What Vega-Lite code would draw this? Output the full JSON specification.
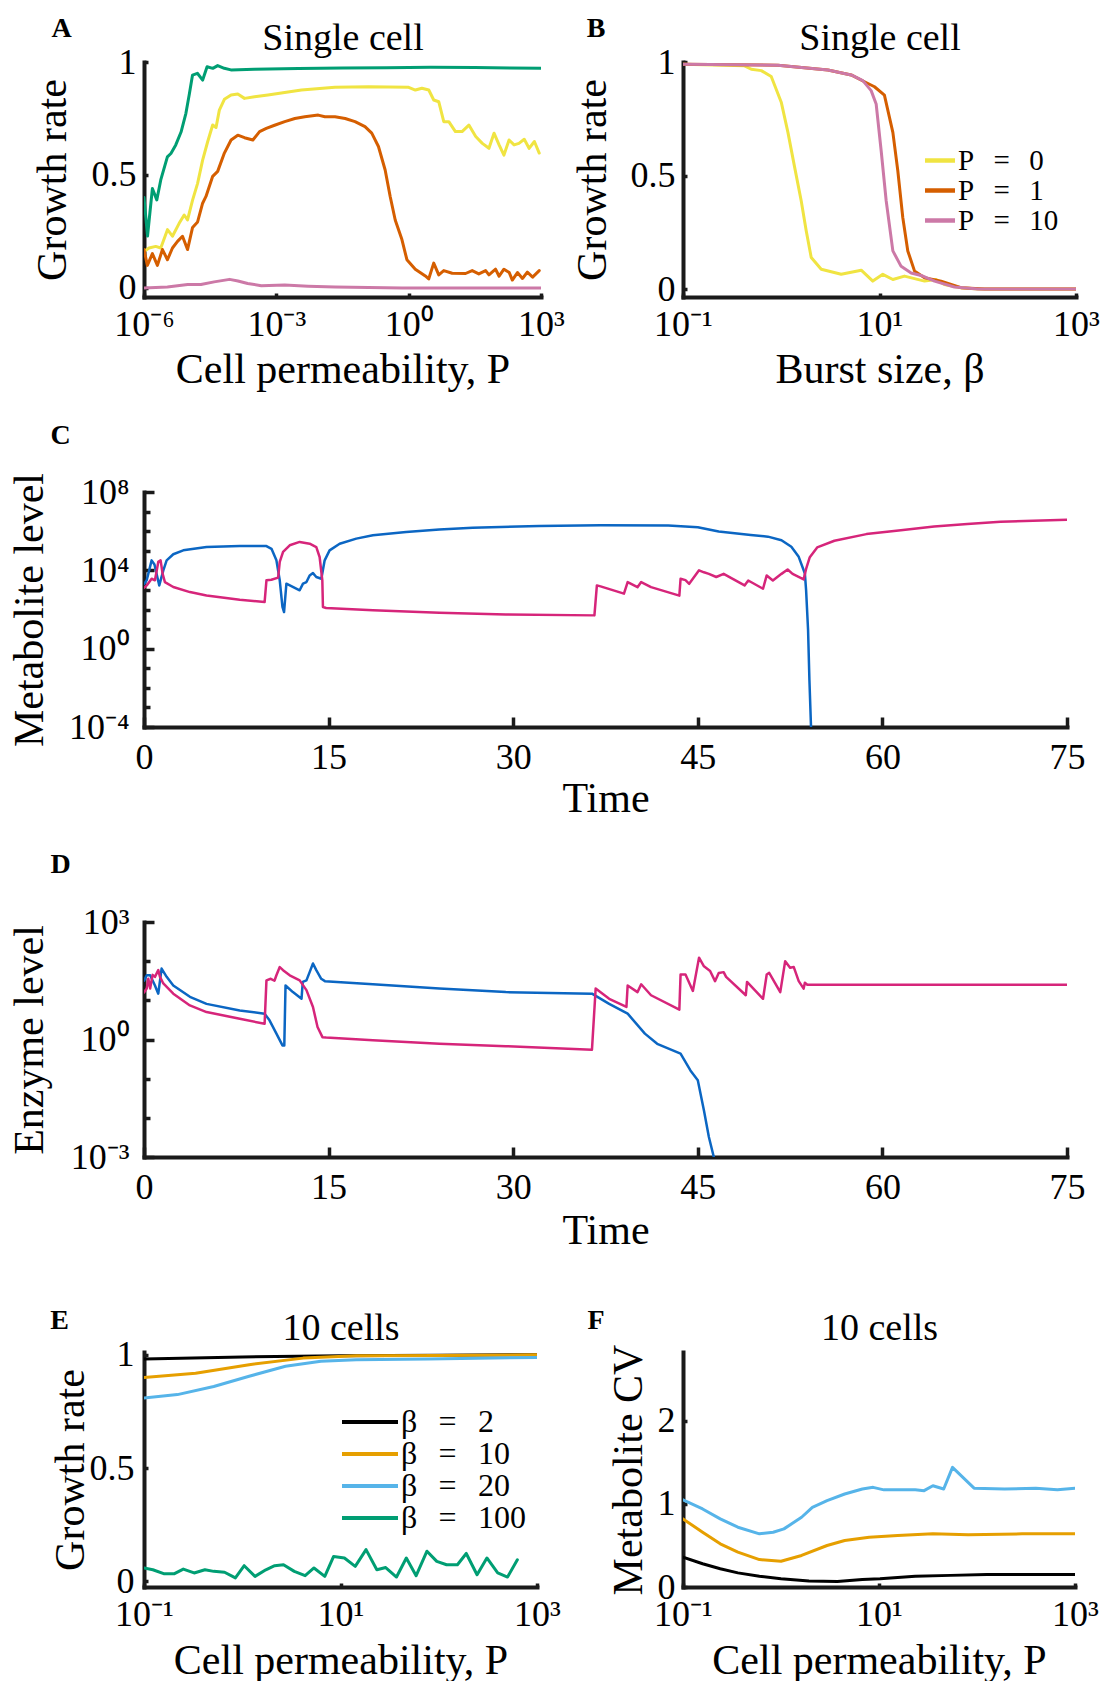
{
  "$schema": "https://vega.github.io/schema/vega-lite/v6.json",
  "background": "white",
  "padding": {"left": 8, "top": 14, "right": 5, "bottom": 0},
  "config": {
    "font": "Liberation Serif",
    "view": {"stroke": null},
    "axis": {"grid": false, "domainColor": "#1a1a1a", "domainWidth": 4, "domainCap": "square", "tickColor": "#1a1a1a", "tickWidth": 3.5, "labelFont": "Liberation Serif", "labelFontSize": 36, "labelColor": "black", "labelFlush": false, "labelOverlap": false, "labelBound": false, "titleFont": "Liberation Serif", "titleFontSize": 42, "titleFontWeight": "normal", "titleColor": "black"},
    "legend": {"labelFont": "Liberation Serif", "labelColor": "black"},
    "line": {"strokeJoin": "round", "strokeCap": "round"}
  },
  "datasets": {
    "A": [
      {"log10_P":-6.0,"growth_rate":0.40,"curve":"Series 1"},{"log10_P":-5.92,"growth_rate":0.23,"curve":"Series 1"},{"log10_P":-5.81,"growth_rate":0.44,"curve":"Series 1"},{"log10_P":-5.71,"growth_rate":0.39,"curve":"Series 1"},{"log10_P":-5.62,"growth_rate":0.478,"curve":"Series 1"},{"log10_P":-5.47,"growth_rate":0.58,"curve":"Series 1"},{"log10_P":-5.39,"growth_rate":0.595,"curve":"Series 1"},{"log10_P":-5.28,"growth_rate":0.633,"curve":"Series 1"},{"log10_P":-5.16,"growth_rate":0.69,"curve":"Series 1"},{"log10_P":-5.05,"growth_rate":0.773,"curve":"Series 1"},{"log10_P":-4.97,"growth_rate":0.861,"curve":"Series 1"},{"log10_P":-4.9,"growth_rate":0.942,"curve":"Series 1"},{"log10_P":-4.79,"growth_rate":0.95,"curve":"Series 1"},{"log10_P":-4.67,"growth_rate":0.92,"curve":"Series 1"},{"log10_P":-4.57,"growth_rate":0.979,"curve":"Series 1"},{"log10_P":-4.44,"growth_rate":0.972,"curve":"Series 1"},{"log10_P":-4.33,"growth_rate":0.984,"curve":"Series 1"},{"log10_P":-4.18,"growth_rate":0.972,"curve":"Series 1"},{"log10_P":-4.03,"growth_rate":0.965,"curve":"Series 1"},{"log10_P":-3.5,"growth_rate":0.968,"curve":"Series 1"},{"log10_P":-2.5,"growth_rate":0.971,"curve":"Series 1"},{"log10_P":-1.5,"growth_rate":0.973,"curve":"Series 1"},{"log10_P":-0.5,"growth_rate":0.975,"curve":"Series 1"},{"log10_P":0.5,"growth_rate":0.977,"curve":"Series 1"},{"log10_P":1.5,"growth_rate":0.976,"curve":"Series 1"},{"log10_P":2.3,"growth_rate":0.973,"curve":"Series 1"},{"log10_P":3.0,"growth_rate":0.972,"curve":"Series 1"},
      {"log10_P":-6.0,"growth_rate":0.161,"curve":"Series 2"},{"log10_P":-5.886,"growth_rate":0.177,"curve":"Series 2"},{"log10_P":-5.734,"growth_rate":0.184,"curve":"Series 2"},{"log10_P":-5.62,"growth_rate":0.177,"curve":"Series 2"},{"log10_P":-5.468,"growth_rate":0.258,"curve":"Series 2"},{"log10_P":-5.355,"growth_rate":0.229,"curve":"Series 2"},{"log10_P":-5.203,"growth_rate":0.286,"curve":"Series 2"},{"log10_P":-5.089,"growth_rate":0.323,"curve":"Series 2"},{"log10_P":-5.013,"growth_rate":0.301,"curve":"Series 2"},{"log10_P":-4.899,"growth_rate":0.389,"curve":"Series 2"},{"log10_P":-4.785,"growth_rate":0.463,"curve":"Series 2"},{"log10_P":-4.671,"growth_rate":0.566,"curve":"Series 2"},{"log10_P":-4.557,"growth_rate":0.647,"curve":"Series 2"},{"log10_P":-4.443,"growth_rate":0.721,"curve":"Series 2"},{"log10_P":-4.367,"growth_rate":0.71,"curve":"Series 2"},{"log10_P":-4.292,"growth_rate":0.787,"curve":"Series 2"},{"log10_P":-4.178,"growth_rate":0.835,"curve":"Series 2"},{"log10_P":-4.026,"growth_rate":0.854,"curve":"Series 2"},{"log10_P":-3.874,"growth_rate":0.858,"curve":"Series 2"},{"log10_P":-3.722,"growth_rate":0.839,"curve":"Series 2"},{"log10_P":-3.494,"growth_rate":0.846,"curve":"Series 2"},{"log10_P":-3.19,"growth_rate":0.854,"curve":"Series 2"},{"log10_P":-2.431,"growth_rate":0.876,"curve":"Series 2"},{"log10_P":-1.672,"growth_rate":0.888,"curve":"Series 2"},{"log10_P":-0.912,"growth_rate":0.891,"curve":"Series 2"},{"log10_P":0.0,"growth_rate":0.888,"curve":"Series 2"},{"log10_P":0.152,"growth_rate":0.876,"curve":"Series 2"},{"log10_P":0.3,"growth_rate":0.884,"curve":"Series 2"},{"log10_P":0.456,"growth_rate":0.876,"curve":"Series 2"},{"log10_P":0.568,"growth_rate":0.832,"curve":"Series 2"},{"log10_P":0.683,"growth_rate":0.824,"curve":"Series 2"},{"log10_P":0.796,"growth_rate":0.736,"curve":"Series 2"},{"log10_P":0.91,"growth_rate":0.736,"curve":"Series 2"},{"log10_P":1.06,"growth_rate":0.692,"curve":"Series 2"},{"log10_P":1.21,"growth_rate":0.692,"curve":"Series 2"},{"log10_P":1.365,"growth_rate":0.721,"curve":"Series 2"},{"log10_P":1.52,"growth_rate":0.67,"curve":"Series 2"},{"log10_P":1.67,"growth_rate":0.64,"curve":"Series 2"},{"log10_P":1.82,"growth_rate":0.618,"curve":"Series 2"},{"log10_P":1.935,"growth_rate":0.685,"curve":"Series 2"},{"log10_P":2.05,"growth_rate":0.633,"curve":"Series 2"},{"log10_P":2.16,"growth_rate":0.588,"curve":"Series 2"},{"log10_P":2.276,"growth_rate":0.655,"curve":"Series 2"},{"log10_P":2.39,"growth_rate":0.633,"curve":"Series 2"},{"log10_P":2.5,"growth_rate":0.64,"curve":"Series 2"},{"log10_P":2.62,"growth_rate":0.658,"curve":"Series 2"},{"log10_P":2.73,"growth_rate":0.618,"curve":"Series 2"},{"log10_P":2.85,"growth_rate":0.648,"curve":"Series 2"},{"log10_P":2.96,"growth_rate":0.597,"curve":"Series 2"},
      {"log10_P":-6.0,"growth_rate":0.17,"curve":"Series 3"},{"log10_P":-5.924,"growth_rate":0.1,"curve":"Series 3"},{"log10_P":-5.81,"growth_rate":0.152,"curve":"Series 3"},{"log10_P":-5.696,"growth_rate":0.1,"curve":"Series 3"},{"log10_P":-5.582,"growth_rate":0.17,"curve":"Series 3"},{"log10_P":-5.468,"growth_rate":0.125,"curve":"Series 3"},{"log10_P":-5.355,"growth_rate":0.177,"curve":"Series 3"},{"log10_P":-5.24,"growth_rate":0.206,"curve":"Series 3"},{"log10_P":-5.127,"growth_rate":0.229,"curve":"Series 3"},{"log10_P":-5.013,"growth_rate":0.17,"curve":"Series 3"},{"log10_P":-4.899,"growth_rate":0.268,"curve":"Series 3"},{"log10_P":-4.785,"growth_rate":0.292,"curve":"Series 3"},{"log10_P":-4.671,"growth_rate":0.375,"curve":"Series 3"},{"log10_P":-4.595,"growth_rate":0.405,"curve":"Series 3"},{"log10_P":-4.443,"growth_rate":0.494,"curve":"Series 3"},{"log10_P":-4.33,"growth_rate":0.516,"curve":"Series 3"},{"log10_P":-4.178,"growth_rate":0.597,"curve":"Series 3"},{"log10_P":-4.026,"growth_rate":0.655,"curve":"Series 3"},{"log10_P":-3.874,"growth_rate":0.676,"curve":"Series 3"},{"log10_P":-3.722,"growth_rate":0.665,"curve":"Series 3"},{"log10_P":-3.532,"growth_rate":0.655,"curve":"Series 3"},{"log10_P":-3.38,"growth_rate":0.692,"curve":"Series 3"},{"log10_P":-3.228,"growth_rate":0.706,"curve":"Series 3"},{"log10_P":-3.04,"growth_rate":0.72,"curve":"Series 3"},{"log10_P":-2.81,"growth_rate":0.736,"curve":"Series 3"},{"log10_P":-2.58,"growth_rate":0.75,"curve":"Series 3"},{"log10_P":-2.355,"growth_rate":0.758,"curve":"Series 3"},{"log10_P":-2.05,"growth_rate":0.765,"curve":"Series 3"},{"log10_P":-1.9,"growth_rate":0.758,"curve":"Series 3"},{"log10_P":-1.67,"growth_rate":0.758,"curve":"Series 3"},{"log10_P":-1.44,"growth_rate":0.75,"curve":"Series 3"},{"log10_P":-1.216,"growth_rate":0.736,"curve":"Series 3"},{"log10_P":-0.99,"growth_rate":0.714,"curve":"Series 3"},{"log10_P":-0.837,"growth_rate":0.685,"curve":"Series 3"},{"log10_P":-0.685,"growth_rate":0.626,"curve":"Series 3"},{"log10_P":-0.533,"growth_rate":0.522,"curve":"Series 3"},{"log10_P":-0.419,"growth_rate":0.405,"curve":"Series 3"},{"log10_P":-0.305,"growth_rate":0.301,"curve":"Series 3"},{"log10_P":-0.153,"growth_rate":0.214,"curve":"Series 3"},{"log10_P":-0.04,"growth_rate":0.125,"curve":"Series 3"},{"log10_P":0.15,"growth_rate":0.083,"curve":"Series 3"},{"log10_P":0.378,"growth_rate":0.053,"curve":"Series 3"},{"log10_P":0.454,"growth_rate":0.04,"curve":"Series 3"},{"log10_P":0.568,"growth_rate":0.11,"curve":"Series 3"},{"log10_P":0.682,"growth_rate":0.058,"curve":"Series 3"},{"log10_P":0.796,"growth_rate":0.077,"curve":"Series 3"},{"log10_P":0.986,"growth_rate":0.065,"curve":"Series 3"},{"log10_P":1.29,"growth_rate":0.064,"curve":"Series 3"},{"log10_P":1.44,"growth_rate":0.077,"curve":"Series 3"},{"log10_P":1.59,"growth_rate":0.062,"curve":"Series 3"},{"log10_P":1.745,"growth_rate":0.077,"curve":"Series 3"},{"log10_P":1.82,"growth_rate":0.058,"curve":"Series 3"},{"log10_P":1.97,"growth_rate":0.083,"curve":"Series 3"},{"log10_P":2.05,"growth_rate":0.052,"curve":"Series 3"},{"log10_P":2.16,"growth_rate":0.083,"curve":"Series 3"},{"log10_P":2.28,"growth_rate":0.068,"curve":"Series 3"},{"log10_P":2.35,"growth_rate":0.035,"curve":"Series 3"},{"log10_P":2.466,"growth_rate":0.068,"curve":"Series 3"},{"log10_P":2.58,"growth_rate":0.042,"curve":"Series 3"},{"log10_P":2.69,"growth_rate":0.07,"curve":"Series 3"},{"log10_P":2.81,"growth_rate":0.048,"curve":"Series 3"},{"log10_P":2.96,"growth_rate":0.077,"curve":"Series 3"},
      {"log10_P":-6.0,"growth_rate":0.0,"curve":"Series 4"},{"log10_P":-5.47,"growth_rate":0.004,"curve":"Series 4"},{"log10_P":-5.01,"growth_rate":0.015,"curve":"Series 4"},{"log10_P":-4.71,"growth_rate":0.015,"curve":"Series 4"},{"log10_P":-4.41,"growth_rate":0.027,"curve":"Series 4"},{"log10_P":-4.06,"growth_rate":0.038,"curve":"Series 4"},{"log10_P":-3.87,"growth_rate":0.031,"curve":"Series 4"},{"log10_P":-3.65,"growth_rate":0.02,"curve":"Series 4"},{"log10_P":-3.34,"growth_rate":0.01,"curve":"Series 4"},{"log10_P":-2.81,"growth_rate":0.013,"curve":"Series 4"},{"log10_P":-2.28,"growth_rate":0.008,"curve":"Series 4"},{"log10_P":-1.67,"growth_rate":0.004,"curve":"Series 4"},{"log10_P":-0.91,"growth_rate":0.002,"curve":"Series 4"},{"log10_P":-0.15,"growth_rate":0.0,"curve":"Series 4"},{"log10_P":1.37,"growth_rate":0.0,"curve":"Series 4"},{"log10_P":3.0,"growth_rate":0.0,"curve":"Series 4"}
    ],
    "B": [
      {"log10_beta":-1,"growth_rate":0.99,"permeability":"P = 0"},{"log10_beta":-0.373,"growth_rate":0.983,"permeability":"P = 0"},{"log10_beta":-0.305,"growth_rate":0.968,"permeability":"P = 0"},{"log10_beta":-0.203,"growth_rate":0.962,"permeability":"P = 0"},{"log10_beta":-0.102,"growth_rate":0.936,"permeability":"P = 0"},{"log10_beta":0.0,"growth_rate":0.823,"permeability":"P = 0"},{"log10_beta":0.068,"growth_rate":0.69,"permeability":"P = 0"},{"log10_beta":0.136,"growth_rate":0.537,"permeability":"P = 0"},{"log10_beta":0.203,"growth_rate":0.389,"permeability":"P = 0"},{"log10_beta":0.254,"growth_rate":0.257,"permeability":"P = 0"},{"log10_beta":0.305,"growth_rate":0.139,"permeability":"P = 0"},{"log10_beta":0.407,"growth_rate":0.087,"permeability":"P = 0"},{"log10_beta":0.61,"growth_rate":0.065,"permeability":"P = 0"},{"log10_beta":0.814,"growth_rate":0.083,"permeability":"P = 0"},{"log10_beta":0.932,"growth_rate":0.035,"permeability":"P = 0"},{"log10_beta":1.034,"growth_rate":0.065,"permeability":"P = 0"},{"log10_beta":1.136,"growth_rate":0.042,"permeability":"P = 0"},{"log10_beta":1.254,"growth_rate":0.057,"permeability":"P = 0"},{"log10_beta":1.458,"growth_rate":0.035,"permeability":"P = 0"},{"log10_beta":1.576,"growth_rate":0.042,"permeability":"P = 0"},{"log10_beta":1.66,"growth_rate":0.02,"permeability":"P = 0"},{"log10_beta":1.83,"growth_rate":0.006,"permeability":"P = 0"},{"log10_beta":2.0,"growth_rate":0.0,"permeability":"P = 0"},{"log10_beta":3.0,"growth_rate":0.0,"permeability":"P = 0"},
      {"log10_beta":-1,"growth_rate":0.99,"permeability":"P = 1"},{"log10_beta":-0.034,"growth_rate":0.986,"permeability":"P = 1"},{"log10_beta":0.475,"growth_rate":0.965,"permeability":"P = 1"},{"log10_beta":0.712,"growth_rate":0.943,"permeability":"P = 1"},{"log10_beta":0.847,"growth_rate":0.913,"permeability":"P = 1"},{"log10_beta":0.949,"growth_rate":0.891,"permeability":"P = 1"},{"log10_beta":1.05,"growth_rate":0.854,"permeability":"P = 1"},{"log10_beta":1.136,"growth_rate":0.69,"permeability":"P = 1"},{"log10_beta":1.186,"growth_rate":0.522,"permeability":"P = 1"},{"log10_beta":1.237,"growth_rate":0.315,"permeability":"P = 1"},{"log10_beta":1.288,"growth_rate":0.168,"permeability":"P = 1"},{"log10_beta":1.356,"growth_rate":0.08,"permeability":"P = 1"},{"log10_beta":1.458,"growth_rate":0.05,"permeability":"P = 1"},{"log10_beta":1.627,"growth_rate":0.035,"permeability":"P = 1"},{"log10_beta":1.83,"growth_rate":0.006,"permeability":"P = 1"},{"log10_beta":2.07,"growth_rate":0.0,"permeability":"P = 1"},{"log10_beta":3.0,"growth_rate":0.0,"permeability":"P = 1"},
      {"log10_beta":-1,"growth_rate":0.99,"permeability":"P = 10"},{"log10_beta":-0.034,"growth_rate":0.986,"permeability":"P = 10"},{"log10_beta":0.475,"growth_rate":0.965,"permeability":"P = 10"},{"log10_beta":0.712,"growth_rate":0.943,"permeability":"P = 10"},{"log10_beta":0.83,"growth_rate":0.918,"permeability":"P = 10"},{"log10_beta":0.915,"growth_rate":0.874,"permeability":"P = 10"},{"log10_beta":0.966,"growth_rate":0.815,"permeability":"P = 10"},{"log10_beta":1.017,"growth_rate":0.609,"permeability":"P = 10"},{"log10_beta":1.068,"growth_rate":0.389,"permeability":"P = 10"},{"log10_beta":1.136,"growth_rate":0.168,"permeability":"P = 10"},{"log10_beta":1.22,"growth_rate":0.1,"permeability":"P = 10"},{"log10_beta":1.322,"growth_rate":0.071,"permeability":"P = 10"},{"log10_beta":1.424,"growth_rate":0.06,"permeability":"P = 10"},{"log10_beta":1.56,"growth_rate":0.035,"permeability":"P = 10"},{"log10_beta":1.763,"growth_rate":0.009,"permeability":"P = 10"},{"log10_beta":2.0,"growth_rate":0.0,"permeability":"P = 10"},{"log10_beta":3.0,"growth_rate":0.0,"permeability":"P = 10"}
    ],
    "C": [
      {"time":0.0,"log10_metabolite":3.3,"cell":"Cell 1"},{"time":0.22,"log10_metabolite":3.49,"cell":"Cell 1"},{"time":0.62,"log10_metabolite":4.51,"cell":"Cell 1"},{"time":0.85,"log10_metabolite":4.3,"cell":"Cell 1"},{"time":1.24,"log10_metabolite":3.23,"cell":"Cell 1"},{"time":1.57,"log10_metabolite":4.0,"cell":"Cell 1"},{"time":1.84,"log10_metabolite":4.51,"cell":"Cell 1"},{"time":2.38,"log10_metabolite":4.82,"cell":"Cell 1"},{"time":3.19,"log10_metabolite":5.02,"cell":"Cell 1"},{"time":5.08,"log10_metabolite":5.19,"cell":"Cell 1"},{"time":7.78,"log10_metabolite":5.24,"cell":"Cell 1"},{"time":9.95,"log10_metabolite":5.24,"cell":"Cell 1"},{"time":10.36,"log10_metabolite":5.1,"cell":"Cell 1"},{"time":10.76,"log10_metabolite":4.51,"cell":"Cell 1"},{"time":11.03,"log10_metabolite":3.49,"cell":"Cell 1"},{"time":11.25,"log10_metabolite":2.13,"cell":"Cell 1"},{"time":11.38,"log10_metabolite":1.87,"cell":"Cell 1"},{"time":11.57,"log10_metabolite":3.32,"cell":"Cell 1"},{"time":12.65,"log10_metabolite":2.98,"cell":"Cell 1"},{"time":12.92,"log10_metabolite":3.32,"cell":"Cell 1"},{"time":13.2,"log10_metabolite":3.4,"cell":"Cell 1"},{"time":13.46,"log10_metabolite":3.74,"cell":"Cell 1"},{"time":13.73,"log10_metabolite":3.86,"cell":"Cell 1"},{"time":14.0,"log10_metabolite":3.66,"cell":"Cell 1"},{"time":14.41,"log10_metabolite":3.57,"cell":"Cell 1"},{"time":14.68,"log10_metabolite":4.51,"cell":"Cell 1"},{"time":15.08,"log10_metabolite":5.02,"cell":"Cell 1"},{"time":15.9,"log10_metabolite":5.36,"cell":"Cell 1"},{"time":17.25,"log10_metabolite":5.62,"cell":"Cell 1"},{"time":18.6,"log10_metabolite":5.79,"cell":"Cell 1"},{"time":21.3,"log10_metabolite":5.96,"cell":"Cell 1"},{"time":24.0,"log10_metabolite":6.09,"cell":"Cell 1"},{"time":26.7,"log10_metabolite":6.18,"cell":"Cell 1"},{"time":32.1,"log10_metabolite":6.26,"cell":"Cell 1"},{"time":37.1,"log10_metabolite":6.3,"cell":"Cell 1"},{"time":42.6,"log10_metabolite":6.29,"cell":"Cell 1"},{"time":45.0,"log10_metabolite":6.2,"cell":"Cell 1"},{"time":46.7,"log10_metabolite":5.98,"cell":"Cell 1"},{"time":49.3,"log10_metabolite":5.81,"cell":"Cell 1"},{"time":50.7,"log10_metabolite":5.72,"cell":"Cell 1"},{"time":51.8,"log10_metabolite":5.54,"cell":"Cell 1"},{"time":52.6,"log10_metabolite":5.2,"cell":"Cell 1"},{"time":53.2,"log10_metabolite":4.69,"cell":"Cell 1"},{"time":53.7,"log10_metabolite":3.84,"cell":"Cell 1"},{"time":53.8,"log10_metabolite":2.99,"cell":"Cell 1"},{"time":53.96,"log10_metabolite":0.95,"cell":"Cell 1"},{"time":54.07,"log10_metabolite":-1.6,"cell":"Cell 1"},{"time":54.2,"log10_metabolite":-4.0,"cell":"Cell 1"},
      {"time":0.0,"log10_metabolite":3.1,"cell":"Cell 2"},{"time":0.22,"log10_metabolite":3.23,"cell":"Cell 2"},{"time":0.62,"log10_metabolite":3.57,"cell":"Cell 2"},{"time":0.89,"log10_metabolite":3.49,"cell":"Cell 2"},{"time":1.16,"log10_metabolite":4.43,"cell":"Cell 2"},{"time":1.35,"log10_metabolite":4.51,"cell":"Cell 2"},{"time":1.51,"log10_metabolite":3.83,"cell":"Cell 2"},{"time":1.7,"log10_metabolite":3.4,"cell":"Cell 2"},{"time":2.38,"log10_metabolite":3.15,"cell":"Cell 2"},{"time":3.73,"log10_metabolite":2.89,"cell":"Cell 2"},{"time":5.08,"log10_metabolite":2.72,"cell":"Cell 2"},{"time":7.78,"log10_metabolite":2.5,"cell":"Cell 2"},{"time":9.8,"log10_metabolite":2.38,"cell":"Cell 2"},{"time":9.95,"log10_metabolite":3.49,"cell":"Cell 2"},{"time":10.35,"log10_metabolite":3.52,"cell":"Cell 2"},{"time":10.9,"log10_metabolite":3.63,"cell":"Cell 2"},{"time":11.03,"log10_metabolite":4.43,"cell":"Cell 2"},{"time":11.3,"log10_metabolite":4.94,"cell":"Cell 2"},{"time":11.84,"log10_metabolite":5.28,"cell":"Cell 2"},{"time":12.65,"log10_metabolite":5.45,"cell":"Cell 2"},{"time":13.46,"log10_metabolite":5.36,"cell":"Cell 2"},{"time":14.0,"log10_metabolite":5.19,"cell":"Cell 2"},{"time":14.27,"log10_metabolite":4.68,"cell":"Cell 2"},{"time":14.49,"log10_metabolite":3.49,"cell":"Cell 2"},{"time":14.54,"log10_metabolite":2.13,"cell":"Cell 2"},{"time":14.8,"log10_metabolite":2.08,"cell":"Cell 2"},{"time":18.6,"log10_metabolite":1.96,"cell":"Cell 2"},{"time":24.0,"log10_metabolite":1.84,"cell":"Cell 2"},{"time":29.4,"log10_metabolite":1.75,"cell":"Cell 2"},{"time":36.6,"log10_metabolite":1.7,"cell":"Cell 2"},{"time":36.8,"log10_metabolite":3.23,"cell":"Cell 2"},{"time":37.1,"log10_metabolite":3.18,"cell":"Cell 2"},{"time":39.0,"log10_metabolite":2.81,"cell":"Cell 2"},{"time":39.3,"log10_metabolite":3.4,"cell":"Cell 2"},{"time":40.1,"log10_metabolite":3.14,"cell":"Cell 2"},{"time":40.4,"log10_metabolite":3.4,"cell":"Cell 2"},{"time":41.2,"log10_metabolite":3.14,"cell":"Cell 2"},{"time":43.5,"log10_metabolite":2.71,"cell":"Cell 2"},{"time":43.6,"log10_metabolite":3.57,"cell":"Cell 2"},{"time":44.0,"log10_metabolite":3.5,"cell":"Cell 2"},{"time":44.3,"log10_metabolite":3.31,"cell":"Cell 2"},{"time":45.1,"log10_metabolite":4.0,"cell":"Cell 2"},{"time":45.5,"log10_metabolite":3.9,"cell":"Cell 2"},{"time":45.9,"log10_metabolite":3.82,"cell":"Cell 2"},{"time":46.5,"log10_metabolite":3.66,"cell":"Cell 2"},{"time":47.1,"log10_metabolite":3.82,"cell":"Cell 2"},{"time":48.8,"log10_metabolite":3.23,"cell":"Cell 2"},{"time":49.1,"log10_metabolite":3.48,"cell":"Cell 2"},{"time":50.3,"log10_metabolite":3.06,"cell":"Cell 2"},{"time":50.6,"log10_metabolite":3.74,"cell":"Cell 2"},{"time":51.1,"log10_metabolite":3.48,"cell":"Cell 2"},{"time":51.8,"log10_metabolite":3.82,"cell":"Cell 2"},{"time":52.3,"log10_metabolite":4.04,"cell":"Cell 2"},{"time":52.7,"log10_metabolite":3.82,"cell":"Cell 2"},{"time":53.6,"log10_metabolite":3.54,"cell":"Cell 2"},{"time":53.8,"log10_metabolite":4.07,"cell":"Cell 2"},{"time":54.1,"log10_metabolite":4.67,"cell":"Cell 2"},{"time":54.7,"log10_metabolite":5.17,"cell":"Cell 2"},{"time":56.1,"log10_metabolite":5.51,"cell":"Cell 2"},{"time":58.7,"log10_metabolite":5.85,"cell":"Cell 2"},{"time":61.5,"log10_metabolite":6.05,"cell":"Cell 2"},{"time":64.2,"log10_metabolite":6.24,"cell":"Cell 2"},{"time":66.9,"log10_metabolite":6.36,"cell":"Cell 2"},{"time":69.6,"log10_metabolite":6.48,"cell":"Cell 2"},{"time":75.0,"log10_metabolite":6.58,"cell":"Cell 2"}
    ],
    "D": [
      {"time":0.0,"log10_enzyme":1.5,"cell":"Cell 1"},{"time":0.22,"log10_enzyme":1.64,"cell":"Cell 1"},{"time":0.5,"log10_enzyme":1.64,"cell":"Cell 1"},{"time":0.89,"log10_enzyme":1.38,"cell":"Cell 1"},{"time":1.16,"log10_enzyme":1.17,"cell":"Cell 1"},{"time":1.43,"log10_enzyme":1.81,"cell":"Cell 1"},{"time":1.84,"log10_enzyme":1.6,"cell":"Cell 1"},{"time":2.38,"log10_enzyme":1.38,"cell":"Cell 1"},{"time":3.73,"log10_enzyme":1.09,"cell":"Cell 1"},{"time":5.08,"log10_enzyme":0.91,"cell":"Cell 1"},{"time":7.78,"log10_enzyme":0.74,"cell":"Cell 1"},{"time":9.8,"log10_enzyme":0.66,"cell":"Cell 1"},{"time":10.2,"log10_enzyme":0.49,"cell":"Cell 1"},{"time":10.76,"log10_enzyme":0.15,"cell":"Cell 1"},{"time":11.25,"log10_enzyme":-0.15,"cell":"Cell 1"},{"time":11.4,"log10_enzyme":-0.15,"cell":"Cell 1"},{"time":11.5,"log10_enzyme":1.38,"cell":"Cell 1"},{"time":12.1,"log10_enzyme":1.21,"cell":"Cell 1"},{"time":12.8,"log10_enzyme":1.04,"cell":"Cell 1"},{"time":12.9,"log10_enzyme":1.47,"cell":"Cell 1"},{"time":13.2,"log10_enzyme":1.51,"cell":"Cell 1"},{"time":13.46,"log10_enzyme":1.72,"cell":"Cell 1"},{"time":13.73,"log10_enzyme":1.94,"cell":"Cell 1"},{"time":14.0,"log10_enzyme":1.77,"cell":"Cell 1"},{"time":14.4,"log10_enzyme":1.55,"cell":"Cell 1"},{"time":14.7,"log10_enzyme":1.49,"cell":"Cell 1"},{"time":18.6,"log10_enzyme":1.41,"cell":"Cell 1"},{"time":24.0,"log10_enzyme":1.3,"cell":"Cell 1"},{"time":29.4,"log10_enzyme":1.21,"cell":"Cell 1"},{"time":36.4,"log10_enzyme":1.17,"cell":"Cell 1"},{"time":37.8,"log10_enzyme":0.91,"cell":"Cell 1"},{"time":39.3,"log10_enzyme":0.66,"cell":"Cell 1"},{"time":40.7,"log10_enzyme":0.15,"cell":"Cell 1"},{"time":41.7,"log10_enzyme":-0.11,"cell":"Cell 1"},{"time":43.6,"log10_enzyme":-0.36,"cell":"Cell 1"},{"time":44.4,"log10_enzyme":-0.79,"cell":"Cell 1"},{"time":45.0,"log10_enzyme":-1.04,"cell":"Cell 1"},{"time":45.5,"log10_enzyme":-1.81,"cell":"Cell 1"},{"time":45.9,"log10_enzyme":-2.49,"cell":"Cell 1"},{"time":46.3,"log10_enzyme":-3.0,"cell":"Cell 1"},
      {"time":0.0,"log10_enzyme":1.2,"cell":"Cell 2"},{"time":0.22,"log10_enzyme":1.3,"cell":"Cell 2"},{"time":0.35,"log10_enzyme":1.55,"cell":"Cell 2"},{"time":0.5,"log10_enzyme":1.3,"cell":"Cell 2"},{"time":0.7,"log10_enzyme":1.65,"cell":"Cell 2"},{"time":0.89,"log10_enzyme":1.6,"cell":"Cell 2"},{"time":1.16,"log10_enzyme":1.77,"cell":"Cell 2"},{"time":1.3,"log10_enzyme":1.6,"cell":"Cell 2"},{"time":1.57,"log10_enzyme":1.43,"cell":"Cell 2"},{"time":2.38,"log10_enzyme":1.17,"cell":"Cell 2"},{"time":3.73,"log10_enzyme":0.87,"cell":"Cell 2"},{"time":5.08,"log10_enzyme":0.7,"cell":"Cell 2"},{"time":7.78,"log10_enzyme":0.53,"cell":"Cell 2"},{"time":9.8,"log10_enzyme":0.4,"cell":"Cell 2"},{"time":9.95,"log10_enzyme":1.51,"cell":"Cell 2"},{"time":10.3,"log10_enzyme":1.55,"cell":"Cell 2"},{"time":10.6,"log10_enzyme":1.5,"cell":"Cell 2"},{"time":10.76,"log10_enzyme":1.64,"cell":"Cell 2"},{"time":11.03,"log10_enzyme":1.85,"cell":"Cell 2"},{"time":11.3,"log10_enzyme":1.77,"cell":"Cell 2"},{"time":11.84,"log10_enzyme":1.64,"cell":"Cell 2"},{"time":12.65,"log10_enzyme":1.51,"cell":"Cell 2"},{"time":13.2,"log10_enzyme":1.26,"cell":"Cell 2"},{"time":13.73,"log10_enzyme":0.83,"cell":"Cell 2"},{"time":14.1,"log10_enzyme":0.32,"cell":"Cell 2"},{"time":14.5,"log10_enzyme":0.06,"cell":"Cell 2"},{"time":14.8,"log10_enzyme":0.05,"cell":"Cell 2"},{"time":18.6,"log10_enzyme":-0.02,"cell":"Cell 2"},{"time":24.0,"log10_enzyme":-0.11,"cell":"Cell 2"},{"time":29.4,"log10_enzyme":-0.17,"cell":"Cell 2"},{"time":36.4,"log10_enzyme":-0.26,"cell":"Cell 2"},{"time":36.7,"log10_enzyme":1.3,"cell":"Cell 2"},{"time":37.8,"log10_enzyme":1.04,"cell":"Cell 2"},{"time":39.2,"log10_enzyme":0.83,"cell":"Cell 2"},{"time":39.3,"log10_enzyme":1.38,"cell":"Cell 2"},{"time":40.1,"log10_enzyme":1.21,"cell":"Cell 2"},{"time":40.4,"log10_enzyme":1.41,"cell":"Cell 2"},{"time":41.2,"log10_enzyme":1.13,"cell":"Cell 2"},{"time":43.5,"log10_enzyme":0.76,"cell":"Cell 2"},{"time":43.6,"log10_enzyme":1.66,"cell":"Cell 2"},{"time":44.0,"log10_enzyme":1.66,"cell":"Cell 2"},{"time":44.6,"log10_enzyme":1.24,"cell":"Cell 2"},{"time":45.1,"log10_enzyme":2.09,"cell":"Cell 2"},{"time":45.5,"log10_enzyme":1.87,"cell":"Cell 2"},{"time":46.0,"log10_enzyme":1.75,"cell":"Cell 2"},{"time":46.4,"log10_enzyme":1.49,"cell":"Cell 2"},{"time":46.7,"log10_enzyme":1.7,"cell":"Cell 2"},{"time":47.1,"log10_enzyme":1.72,"cell":"Cell 2"},{"time":47.3,"log10_enzyme":1.6,"cell":"Cell 2"},{"time":48.9,"log10_enzyme":1.13,"cell":"Cell 2"},{"time":49.0,"log10_enzyme":1.47,"cell":"Cell 2"},{"time":50.3,"log10_enzyme":1.04,"cell":"Cell 2"},{"time":50.6,"log10_enzyme":1.66,"cell":"Cell 2"},{"time":50.8,"log10_enzyme":1.7,"cell":"Cell 2"},{"time":51.7,"log10_enzyme":1.21,"cell":"Cell 2"},{"time":52.1,"log10_enzyme":2.0,"cell":"Cell 2"},{"time":52.5,"log10_enzyme":1.83,"cell":"Cell 2"},{"time":52.8,"log10_enzyme":1.85,"cell":"Cell 2"},{"time":53.2,"log10_enzyme":1.49,"cell":"Cell 2"},{"time":53.6,"log10_enzyme":1.3,"cell":"Cell 2"},{"time":53.7,"log10_enzyme":1.45,"cell":"Cell 2"},{"time":53.9,"log10_enzyme":1.4,"cell":"Cell 2"},{"time":75.0,"log10_enzyme":1.4,"cell":"Cell 2"}
    ],
    "E": [
      {"log10_P":-1,"growth_rate":0.981,"burst":"β = 2"},{"log10_P":0,"growth_rate":0.99,"burst":"β = 2"},{"log10_P":1,"growth_rate":0.995,"burst":"β = 2"},{"log10_P":2,"growth_rate":0.998,"burst":"β = 2"},{"log10_P":3,"growth_rate":1.0,"burst":"β = 2"},
      {"log10_P":-1,"growth_rate":0.9,"burst":"β = 10"},{"log10_P":-0.475,"growth_rate":0.918,"burst":"β = 10"},{"log10_P":0.07,"growth_rate":0.956,"burst":"β = 10"},{"log10_P":0.62,"growth_rate":0.985,"burst":"β = 10"},{"log10_P":1.16,"growth_rate":0.995,"burst":"β = 10"},{"log10_P":2,"growth_rate":0.997,"burst":"β = 10"},{"log10_P":3,"growth_rate":1.0,"burst":"β = 10"},
      {"log10_P":-1,"growth_rate":0.809,"burst":"β = 20"},{"log10_P":-0.66,"growth_rate":0.824,"burst":"β = 20"},{"log10_P":-0.29,"growth_rate":0.86,"burst":"β = 20"},{"log10_P":0.07,"growth_rate":0.905,"burst":"β = 20"},{"log10_P":0.44,"growth_rate":0.949,"burst":"β = 20"},{"log10_P":0.8,"growth_rate":0.971,"burst":"β = 20"},{"log10_P":1.16,"growth_rate":0.978,"burst":"β = 20"},{"log10_P":1.89,"growth_rate":0.981,"burst":"β = 20"},{"log10_P":3,"growth_rate":0.988,"burst":"β = 20"},
      {"log10_P":-1,"growth_rate":0.059,"burst":"β = 100"},{"log10_P":-0.91,"growth_rate":0.051,"burst":"β = 100"},{"log10_P":-0.8,"growth_rate":0.034,"burst":"β = 100"},{"log10_P":-0.69,"growth_rate":0.034,"burst":"β = 100"},{"log10_P":-0.6,"growth_rate":0.054,"burst":"β = 100"},{"log10_P":-0.49,"growth_rate":0.037,"burst":"β = 100"},{"log10_P":-0.38,"growth_rate":0.051,"burst":"β = 100"},{"log10_P":-0.29,"growth_rate":0.044,"burst":"β = 100"},{"log10_P":-0.18,"growth_rate":0.04,"burst":"β = 100"},{"log10_P":-0.07,"growth_rate":0.015,"burst":"β = 100"},{"log10_P":0.02,"growth_rate":0.069,"burst":"β = 100"},{"log10_P":0.13,"growth_rate":0.022,"burst":"β = 100"},{"log10_P":0.24,"growth_rate":0.051,"burst":"β = 100"},{"log10_P":0.33,"growth_rate":0.069,"burst":"β = 100"},{"log10_P":0.42,"growth_rate":0.073,"burst":"β = 100"},{"log10_P":0.53,"growth_rate":0.044,"burst":"β = 100"},{"log10_P":0.64,"growth_rate":0.025,"burst":"β = 100"},{"log10_P":0.73,"growth_rate":0.059,"burst":"β = 100"},{"log10_P":0.84,"growth_rate":0.022,"burst":"β = 100"},{"log10_P":0.93,"growth_rate":0.11,"burst":"β = 100"},{"log10_P":1.04,"growth_rate":0.103,"burst":"β = 100"},{"log10_P":1.15,"growth_rate":0.066,"burst":"β = 100"},{"log10_P":1.26,"growth_rate":0.14,"burst":"β = 100"},{"log10_P":1.37,"growth_rate":0.051,"burst":"β = 100"},{"log10_P":1.46,"growth_rate":0.061,"burst":"β = 100"},{"log10_P":1.57,"growth_rate":0.019,"burst":"β = 100"},{"log10_P":1.67,"growth_rate":0.103,"burst":"β = 100"},{"log10_P":1.77,"growth_rate":0.025,"burst":"β = 100"},{"log10_P":1.88,"growth_rate":0.133,"burst":"β = 100"},{"log10_P":1.98,"growth_rate":0.088,"burst":"β = 100"},{"log10_P":2.08,"growth_rate":0.073,"burst":"β = 100"},{"log10_P":2.19,"growth_rate":0.073,"burst":"β = 100"},{"log10_P":2.28,"growth_rate":0.123,"burst":"β = 100"},{"log10_P":2.39,"growth_rate":0.029,"burst":"β = 100"},{"log10_P":2.49,"growth_rate":0.103,"burst":"β = 100"},{"log10_P":2.6,"growth_rate":0.037,"burst":"β = 100"},{"log10_P":2.7,"growth_rate":0.019,"burst":"β = 100"},{"log10_P":2.8,"growth_rate":0.095,"burst":"β = 100"}
    ],
    "F": [
      {"log10_P":-1,"metabolite_cv":0.36,"burst":"β = 2"},{"log10_P":-0.8,"metabolite_cv":0.28,"burst":"β = 2"},{"log10_P":-0.62,"metabolite_cv":0.22,"burst":"β = 2"},{"log10_P":-0.44,"metabolite_cv":0.17,"burst":"β = 2"},{"log10_P":-0.22,"metabolite_cv":0.13,"burst":"β = 2"},{"log10_P":0.0,"metabolite_cv":0.1,"burst":"β = 2"},{"log10_P":0.285,"metabolite_cv":0.073,"burst":"β = 2"},{"log10_P":0.575,"metabolite_cv":0.065,"burst":"β = 2"},{"log10_P":0.83,"metabolite_cv":0.09,"burst":"β = 2"},{"log10_P":1.01,"metabolite_cv":0.1,"burst":"β = 2"},{"log10_P":1.37,"metabolite_cv":0.13,"burst":"β = 2"},{"log10_P":1.73,"metabolite_cv":0.14,"burst":"β = 2"},{"log10_P":2.1,"metabolite_cv":0.15,"burst":"β = 2"},{"log10_P":3.0,"metabolite_cv":0.15,"burst":"β = 2"},
      {"log10_P":-1,"metabolite_cv":0.82,"burst":"β = 10"},{"log10_P":-0.8,"metabolite_cv":0.66,"burst":"β = 10"},{"log10_P":-0.62,"metabolite_cv":0.52,"burst":"β = 10"},{"log10_P":-0.44,"metabolite_cv":0.42,"burst":"β = 10"},{"log10_P":-0.22,"metabolite_cv":0.33,"burst":"β = 10"},{"log10_P":0.0,"metabolite_cv":0.31,"burst":"β = 10"},{"log10_P":0.21,"metabolite_cv":0.38,"burst":"β = 10"},{"log10_P":0.47,"metabolite_cv":0.5,"burst":"β = 10"},{"log10_P":0.65,"metabolite_cv":0.56,"burst":"β = 10"},{"log10_P":0.9,"metabolite_cv":0.6,"burst":"β = 10"},{"log10_P":1.19,"metabolite_cv":0.62,"burst":"β = 10"},{"log10_P":1.55,"metabolite_cv":0.64,"burst":"β = 10"},{"log10_P":1.91,"metabolite_cv":0.63,"burst":"β = 10"},{"log10_P":2.46,"metabolite_cv":0.64,"burst":"β = 10"},{"log10_P":3.0,"metabolite_cv":0.64,"burst":"β = 10"},
      {"log10_P":-1,"metabolite_cv":1.05,"burst":"β = 20"},{"log10_P":-0.8,"metabolite_cv":0.94,"burst":"β = 20"},{"log10_P":-0.62,"metabolite_cv":0.82,"burst":"β = 20"},{"log10_P":-0.44,"metabolite_cv":0.72,"burst":"β = 20"},{"log10_P":-0.22,"metabolite_cv":0.64,"burst":"β = 20"},{"log10_P":-0.08,"metabolite_cv":0.66,"burst":"β = 20"},{"log10_P":0.03,"metabolite_cv":0.7,"burst":"β = 20"},{"log10_P":0.21,"metabolite_cv":0.84,"burst":"β = 20"},{"log10_P":0.32,"metabolite_cv":0.96,"burst":"β = 20"},{"log10_P":0.47,"metabolite_cv":1.04,"burst":"β = 20"},{"log10_P":0.65,"metabolite_cv":1.12,"burst":"β = 20"},{"log10_P":0.83,"metabolite_cv":1.18,"burst":"β = 20"},{"log10_P":0.94,"metabolite_cv":1.2,"burst":"β = 20"},{"log10_P":1.05,"metabolite_cv":1.17,"burst":"β = 20"},{"log10_P":1.37,"metabolite_cv":1.17,"burst":"β = 20"},{"log10_P":1.46,"metabolite_cv":1.16,"burst":"β = 20"},{"log10_P":1.55,"metabolite_cv":1.22,"burst":"β = 20"},{"log10_P":1.66,"metabolite_cv":1.18,"burst":"β = 20"},{"log10_P":1.75,"metabolite_cv":1.44,"burst":"β = 20"},{"log10_P":1.97,"metabolite_cv":1.19,"burst":"β = 20"},{"log10_P":2.28,"metabolite_cv":1.18,"burst":"β = 20"},{"log10_P":2.6,"metabolite_cv":1.19,"burst":"β = 20"},{"log10_P":2.82,"metabolite_cv":1.17,"burst":"β = 20"},{"log10_P":3.0,"metabolite_cv":1.19,"burst":"β = 20"}
    ]
  },
  "vconcat": [
    {
      "hconcat": [
        {
          "width": 397, "height": 235,
          "data": {"name": "A"},
          "layer": [
            {
              "mark": {"type": "line", "strokeWidth": 3, "clip": true},
              "encoding": {
                "x": {"field": "log10_P", "type": "quantitative", "scale": {"domain": [-6, 3], "nice": false, "zero": false},
                  "axis": {"values": [-6, -3, 0, 3], "labelExpr": "'10' + replace(replace(replace(replace(replace(replace(replace(''+datum.value,'-','⁻'),'0','⁰'),'1','¹'),'3','³'),'4','⁴'),'6','⁶'),'8','⁸')", "tickSize": -4, "labelPadding": 31, "labelBaseline": "middle", "title": "Cell permeability, P", "titleX": 198.5, "titleY": 72, "titleBaseline": "middle", "titleAlign": "center", "titleAngle": 0}},
                "y": {"field": "growth_rate", "type": "quantitative", "scale": {"domain": [-0.04, 1], "nice": false, "zero": false},
                  "axis": {"values": [0, 0.5, 1], "labelExpr": "''+datum.value", "tickSize": -4, "labelPadding": 12, "title": "Growth rate", "titleX": -91.5, "titleY": 117.5, "titleAngle": 270, "titleBaseline": "middle", "titleAlign": "center"}},
                "color": {"field": "curve", "type": "nominal", "scale": {"domain": ["Series 1", "Series 2", "Series 3", "Series 4"], "range": ["#009E73", "#F0E442", "#D55E00", "#CC79A7"]}, "legend": null}
              }
            },
            {
              "mark": {"type": "point", "opacity": 0},
              "encoding": {
                "x": {"field": "log10_P", "type": "quantitative", "axis": {"orient": "top", "domain": false, "ticks": false, "labels": false, "grid": false, "title": "Single cell", "titleFontSize": 38, "titleX": 198.5, "titleY": -24, "titleBaseline": "middle", "titleAlign": "center", "titleAngle": 0}},
                "y": {"field": "growth_rate", "type": "quantitative", "axis": {"orient": "right", "domain": false, "ticks": false, "labels": false, "grid": false, "title": "A", "titleFontSize": 28, "titleFontWeight": "bold", "titleAngle": 0, "titleX": -480, "titleY": -34, "titleBaseline": "middle", "titleAlign": "center"}}
              }
            }
          ],
          "resolve": {"axis": {"x": "independent", "y": "independent"}}
        },
        {
          "width": 393, "height": 235,
          "data": {"name": "B"},
          "layer": [
            {
              "mark": {"type": "line", "strokeWidth": 3, "clip": true},
              "encoding": {
                "x": {"field": "log10_beta", "type": "quantitative", "scale": {"domain": [-1, 3], "nice": false, "zero": false},
                  "axis": {"values": [-1, 1, 3], "labelExpr": "'10' + replace(replace(replace(replace(replace(replace(replace(''+datum.value,'-','⁻'),'0','⁰'),'1','¹'),'3','³'),'4','⁴'),'6','⁶'),'8','⁸')", "tickSize": -4, "labelPadding": 31, "labelBaseline": "middle", "title": "Burst size, β", "titleX": 196.5, "titleY": 72, "titleBaseline": "middle", "titleAlign": "center", "titleAngle": 0}},
                "y": {"field": "growth_rate", "type": "quantitative", "scale": {"domain": [-0.035, 1], "nice": false, "zero": false},
                  "axis": {"values": [0, 0.5, 1], "labelExpr": "''+datum.value", "tickSize": -4, "labelPadding": 12, "title": "Growth rate", "titleX": -91, "titleY": 117.5, "titleAngle": 270, "titleBaseline": "middle", "titleAlign": "center"}},
                "color": {"field": "permeability", "type": "nominal", "scale": {"domain": ["P = 0", "P = 1", "P = 10"], "range": ["#F0E442", "#D55E00", "#CC79A7"]},
                  "legend": {"orient": "none", "legendX": 250, "legendY": 84, "title": null, "symbolType": "M-3,0H1", "symbolSize": 225, "symbolStrokeWidth": 4.5, "labelFontSize": 29, "labelOffset": -4, "rowPadding": 0, "padding": 0, "labelExpr": "replace(replace(datum.label, ' ', '\u2002\u2006'), ' ', '\u2002\u2006')"}}
              }
            },
            {
              "mark": {"type": "point", "opacity": 0},
              "encoding": {
                "x": {"field": "log10_beta", "type": "quantitative", "axis": {"orient": "top", "domain": false, "ticks": false, "labels": false, "grid": false, "title": "Single cell", "titleFontSize": 38, "titleX": 196.5, "titleY": -24, "titleBaseline": "middle", "titleAlign": "center", "titleAngle": 0}},
                "y": {"field": "growth_rate", "type": "quantitative", "axis": {"orient": "right", "domain": false, "ticks": false, "labels": false, "grid": false, "title": "B", "titleFontSize": 28, "titleFontWeight": "bold", "titleAngle": 0, "titleX": -480.5, "titleY": -34, "titleBaseline": "middle", "titleAlign": "center"}}
              }
            }
          ],
          "resolve": {"axis": {"x": "independent", "y": "independent"}}
        }
      ],
      "spacing": 142,
      "bounds": "flush",
      "resolve": {"scale": {"x": "independent", "y": "independent", "color": "independent"}}
    },
    {
      "hconcat": [
        {
          "width": 923, "height": 235,
          "data": {"name": "C"},
          "layer": [
            {
              "mark": {"type": "line", "strokeWidth": 2.5, "clip": true},
              "encoding": {
                "x": {"field": "time", "type": "quantitative", "scale": {"domain": [0, 75], "nice": false, "zero": false},
                  "axis": {"values": [0, 15, 30, 45, 60, 75], "labelExpr": "''+datum.value", "tickSize": -10, "labelPadding": 40, "labelBaseline": "middle", "title": "Time", "titleX": 461.5, "titleY": 71, "titleBaseline": "middle", "titleAlign": "center", "titleAngle": 0}},
                "y": {"field": "log10_metabolite", "type": "quantitative", "scale": {"domain": [-4, 8], "nice": false, "zero": false},
                  "axis": {"values": [-4, 0, 4, 8], "labelExpr": "'10' + replace(replace(replace(replace(replace(replace(replace(''+datum.value,'-','⁻'),'0','⁰'),'1','¹'),'3','³'),'4','⁴'),'6','⁶'),'8','⁸')", "tickSize": -10, "labelPadding": 25, "title": "Metabolite level", "titleX": -115, "titleY": 117.5, "titleAngle": 270, "titleBaseline": "middle", "titleAlign": "center"}},
                "color": {"field": "cell", "type": "nominal", "scale": {"domain": ["Cell 1", "Cell 2"], "range": ["#0B66C3", "#D6257A"]}, "legend": null}
              }
            },
            {
              "mark": {"type": "point", "opacity": 0},
              "encoding": {
                "x": {"field": "time", "type": "quantitative", "axis": {"orient": "top", "domain": false, "ticks": false, "labels": false, "grid": false, "title": "C", "titleFontSize": 28, "titleFontWeight": "bold", "titleX": -84, "titleY": -57, "titleBaseline": "middle", "titleAlign": "center", "titleAngle": 0}},
                "y": {"field": "log10_metabolite", "type": "quantitative", "axis": {"orient": "left", "values": [-3, -2, -1, 1, 2, 3, 5, 6, 7], "domain": false, "labels": false, "grid": false, "tickSize": -6, "title": null}}
              }
            }
          ],
          "resolve": {"axis": {"x": "independent", "y": "independent"}}
        }
      ],
      "bounds": "flush"
    },
    {
      "hconcat": [
        {
          "width": 923, "height": 235,
          "data": {"name": "D"},
          "layer": [
            {
              "mark": {"type": "line", "strokeWidth": 2.5, "clip": true},
              "encoding": {
                "x": {"field": "time", "type": "quantitative", "scale": {"domain": [0, 75], "nice": false, "zero": false},
                  "axis": {"values": [0, 15, 30, 45, 60, 75], "labelExpr": "''+datum.value", "tickSize": -10, "labelPadding": 40, "labelBaseline": "middle", "title": "Time", "titleX": 461.5, "titleY": 73, "titleBaseline": "middle", "titleAlign": "center", "titleAngle": 0}},
                "y": {"field": "log10_enzyme", "type": "quantitative", "scale": {"domain": [-3, 3], "nice": false, "zero": false},
                  "axis": {"values": [-3, 0, 3], "labelExpr": "'10' + replace(replace(replace(replace(replace(replace(replace(''+datum.value,'-','⁻'),'0','⁰'),'1','¹'),'3','³'),'4','⁴'),'6','⁶'),'8','⁸')", "tickSize": -10, "labelPadding": 25, "title": "Enzyme level", "titleX": -115, "titleY": 117.5, "titleAngle": 270, "titleBaseline": "middle", "titleAlign": "center"}},
                "color": {"field": "cell", "type": "nominal", "scale": {"domain": ["Cell 1", "Cell 2"], "range": ["#0B66C3", "#D6257A"]}, "legend": null}
              }
            },
            {
              "mark": {"type": "point", "opacity": 0},
              "encoding": {
                "x": {"field": "time", "type": "quantitative", "axis": {"orient": "top", "domain": false, "ticks": false, "labels": false, "grid": false, "title": "D", "titleFontSize": 28, "titleFontWeight": "bold", "titleX": -84, "titleY": -58, "titleBaseline": "middle", "titleAlign": "center", "titleAngle": 0}},
                "y": {"field": "log10_enzyme", "type": "quantitative", "axis": {"orient": "left", "values": [-2, -1, 1, 2], "domain": false, "labels": false, "grid": false, "tickSize": -6, "title": null}}
              }
            }
          ],
          "resolve": {"axis": {"x": "independent", "y": "independent"}}
        }
      ],
      "bounds": "flush"
    },
    {
      "hconcat": [
        {
          "width": 393, "height": 235,
          "data": {"name": "E"},
          "layer": [
            {
              "mark": {"type": "line", "strokeWidth": 3, "clip": true},
              "encoding": {
                "x": {"field": "log10_P", "type": "quantitative", "scale": {"domain": [-1, 3], "nice": false, "zero": false},
                  "axis": {"values": [-1, 1, 3], "labelExpr": "'10' + replace(replace(replace(replace(replace(replace(replace(''+datum.value,'-','⁻'),'0','⁰'),'1','¹'),'3','³'),'4','⁴'),'6','⁶'),'8','⁸')", "tickSize": -4, "labelPadding": 31, "labelBaseline": "middle", "title": "Cell permeability, P", "titleX": 196.5, "titleY": 73, "titleBaseline": "middle", "titleAlign": "center", "titleAngle": 0}},
                "y": {"field": "growth_rate", "type": "quantitative", "scale": {"domain": [-0.025, 1.012], "nice": false, "zero": false},
                  "axis": {"values": [0, 0.5, 1], "labelExpr": "''+datum.value", "tickSize": -4, "labelPadding": 14, "title": "Growth rate", "titleX": -74, "titleY": 117.5, "titleAngle": 270, "titleBaseline": "middle", "titleAlign": "center"}},
                "color": {"field": "burst", "type": "nominal", "scale": {"domain": ["β = 2", "β = 10", "β = 20", "β = 100"], "range": ["#000000", "#E69F00", "#56B4E9", "#009E73"]},
                  "legend": {"orient": "none", "legendX": 224, "legendY": 54, "title": null, "symbolType": "M-3,0H1", "symbolSize": 784, "symbolStrokeWidth": 4, "labelFontSize": 32, "labelOffset": 1, "rowPadding": 0, "padding": 0, "labelExpr": "replace(replace(datum.label, ' ', '\u2002\u2006'), ' ', '\u2002\u2006')"}}
              }
            },
            {
              "mark": {"type": "point", "opacity": 0},
              "encoding": {
                "x": {"field": "log10_P", "type": "quantitative", "axis": {"orient": "top", "domain": false, "ticks": false, "labels": false, "grid": false, "title": "10 cells", "titleFontSize": 38, "titleX": 196.5, "titleY": -24, "titleBaseline": "middle", "titleAlign": "center", "titleAngle": 0}},
                "y": {"field": "growth_rate", "type": "quantitative", "axis": {"orient": "right", "domain": false, "ticks": false, "labels": false, "grid": false, "title": "E", "titleFontSize": 28, "titleFontWeight": "bold", "titleAngle": 0, "titleX": -478, "titleY": -32, "titleBaseline": "middle", "titleAlign": "center"}}
              }
            }
          ],
          "resolve": {"axis": {"x": "independent", "y": "independent"}}
        },
        {
          "width": 392, "height": 235,
          "data": {"name": "F"},
          "layer": [
            {
              "mark": {"type": "line", "strokeWidth": 3, "clip": true},
              "encoding": {
                "x": {"field": "log10_P", "type": "quantitative", "scale": {"domain": [-1, 3], "nice": false, "zero": false},
                  "axis": {"values": [-1, 1, 3], "labelExpr": "'10' + replace(replace(replace(replace(replace(replace(replace(''+datum.value,'-','⁻'),'0','⁰'),'1','¹'),'3','³'),'4','⁴'),'6','⁶'),'8','⁸')", "tickSize": -4, "labelPadding": 31, "labelBaseline": "middle", "title": "Cell permeability, P", "titleX": 196, "titleY": 73, "titleBaseline": "middle", "titleAlign": "center", "titleAngle": 0}},
                "y": {"field": "metabolite_cv", "type": "quantitative", "scale": {"domain": [0, 2.83], "nice": false, "zero": false},
                  "axis": {"values": [0, 1, 2], "labelExpr": "''+datum.value", "tickSize": -4, "labelPadding": 12, "title": "Metabolite CV", "titleX": -55, "titleY": 117.5, "titleAngle": 270, "titleBaseline": "middle", "titleAlign": "center"}},
                "color": {"field": "burst", "type": "nominal", "scale": {"domain": ["β = 2", "β = 10", "β = 20"], "range": ["#000000", "#E69F00", "#56B4E9"]}, "legend": null}
              }
            },
            {
              "mark": {"type": "point", "opacity": 0},
              "encoding": {
                "x": {"field": "log10_P", "type": "quantitative", "axis": {"orient": "top", "domain": false, "ticks": false, "labels": false, "grid": false, "title": "10 cells", "titleFontSize": 38, "titleX": 196, "titleY": -24, "titleBaseline": "middle", "titleAlign": "center", "titleAngle": 0}},
                "y": {"field": "metabolite_cv", "type": "quantitative", "axis": {"orient": "right", "domain": false, "ticks": false, "labels": false, "grid": false, "title": "F", "titleFontSize": 28, "titleFontWeight": "bold", "titleAngle": 0, "titleX": -479.5, "titleY": -32, "titleBaseline": "middle", "titleAlign": "center"}}
              }
            }
          ],
          "resolve": {"axis": {"x": "independent", "y": "independent"}}
        }
      ],
      "spacing": 146,
      "bounds": "flush",
      "resolve": {"scale": {"x": "independent", "y": "independent", "color": "independent"}}
    }
  ],
  "spacing": 430,
  "bounds": "flush",
  "resolve": {"scale": {"x": "independent", "y": "independent", "color": "independent"}}
}
